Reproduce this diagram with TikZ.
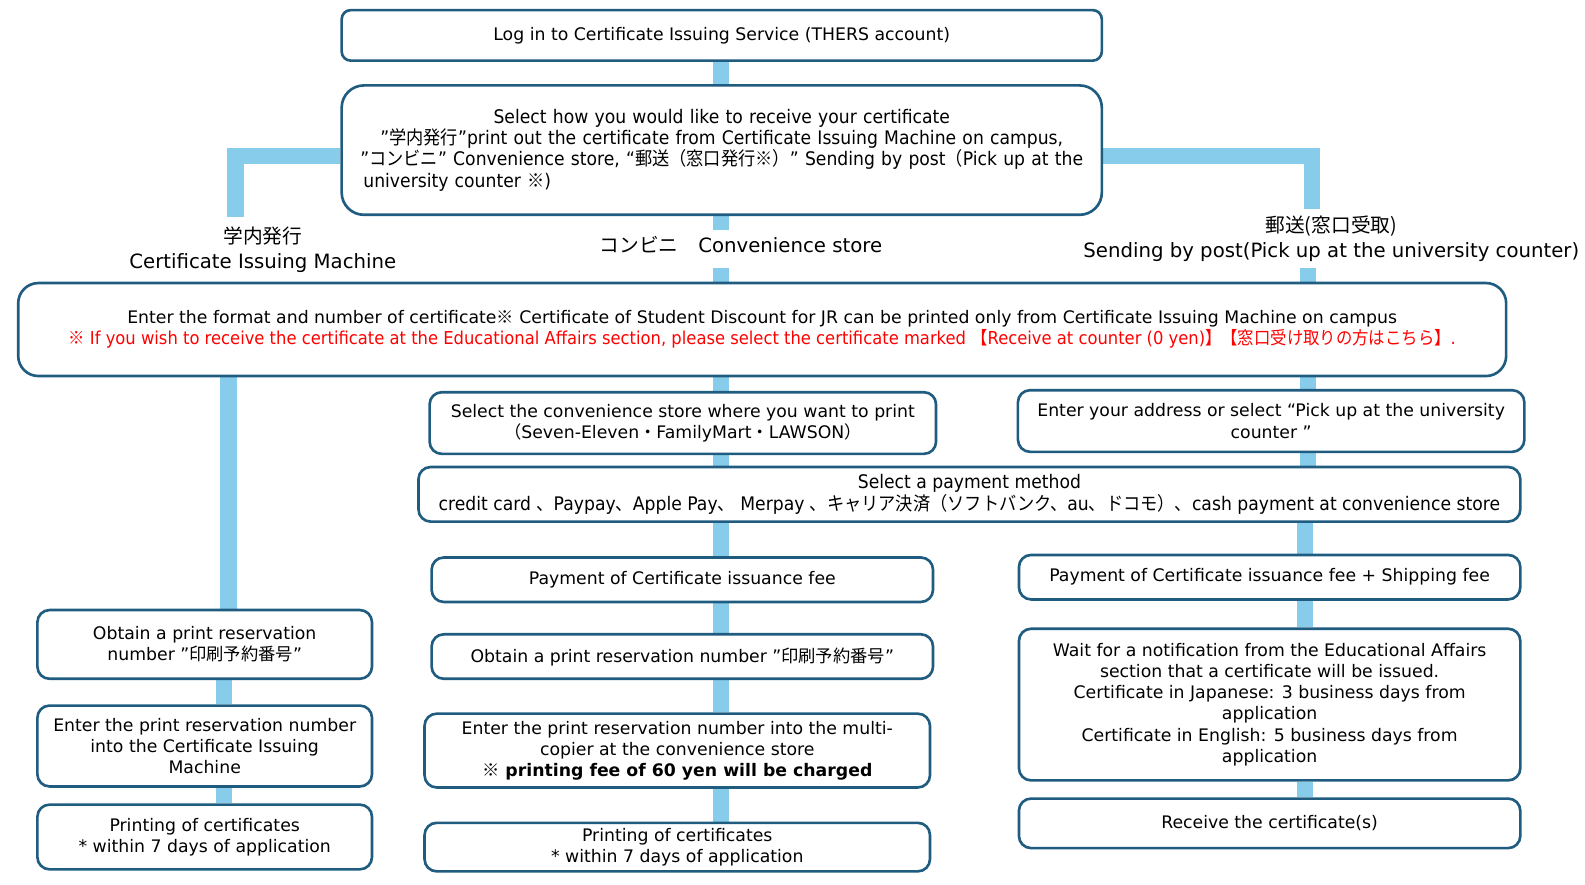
\documentclass[tikz,border=0pt]{standalone}
\usepackage{fontspec}
\setmainfont{DejaVu Sans}
\newfontfamily\jpf{Noto Sans CJK JP}
\newfontfamily\cdf[FakeStretch=0.92]{DejaVu Sans}
\newfontfamily\cdjp[FakeStretch=0.92]{Noto Sans CJK JP}
\usetikzlibrary{backgrounds}
\definecolor{boxc}{RGB}{31,92,128}
\definecolor{connc}{RGB}{135,205,235}
\definecolor{redc}{RGB}{255,0,0}
\let\myjp\jpf
\newcommand\J[1]{{\myjp #1}}
\newcommand\fs{\fontsize{17.1}{21}\selectfont}
\newcommand\fc{\cdf\let\myjp\cdjp\fontsize{18.5}{21}\selectfont}
\newcommand\fl{\fontsize{19.5}{25}\selectfont}
\tikzset{
  box/.style={draw=boxc, line width=2.6pt, fill=white, rounded corners=12pt,
    align=center, inner sep=0pt, font=\fs},
  conn/.style={draw=connc, line width=16pt},
  lbl/.style={align=center, font=\fl, inner sep=0pt},
}
\begin{document}
\begin{tikzpicture}[x=1pt,y=-1pt]
\useasboundingbox (0,0) rectangle (1568,875.4);
% top
\node[box, minimum width=752pt, minimum height=50pt, rounded corners=9pt] (b1) at (714,35)
  {Log in to Certificate Issuing Service (THERS account)};
\node[box, minimum width=752pt, minimum height=128pt, rounded corners=22pt, text width=740pt, font=\fc] (b2) at (714,148.5)
  {Select how you would like to receive your certificate\\
   ”\J{学内発行}”print out the certificate from Certificate Issuing Machine on campus,\\
   ”\J{コンビニ}” Convenience store, “\J{郵送（窓口発行※）}” Sending by post\J{（}Pick up at the\\
   \makebox[709pt][l]{university counter \J{※})}};
\node[box, minimum width=1472pt, minimum height=92pt, rounded corners=20pt] (b3) at (754,326)
  {Enter the format and number of certificate\J{※} Certificate of Student Discount for JR can be printed only from Certificate Issuing Machine on campus\\
   {\cdf\let\myjp\cdjp\fontsize{17.6}{21}\selectfont\color{redc}\J{※} If you wish to receive the certificate at the Educational Affairs section, please select the certificate marked \J{【}Receive at counter (0 yen)\J{】【窓口受け取りの方はこちら】}.}};
% labels
\node[lbl] (lblL) at (260,247) {\J{学内発行}\\Certificate Issuing Machine};
\node[lbl, text height=22pt, text depth=15pt] (lblM) at (733,246) {\J{コンビニ　}Convenience store};
\node[lbl] (lblR) at (1317,236.5) {\J{郵送(窓口受取)}\\Sending by post(Pick up at the university counter)};
% left column
\node[box, minimum width=331pt, minimum height=68pt] (L1) at (202.5,637.5)
  {Obtain a print reservation\\number ”\J{印刷予約番号}”};
\node[box, minimum width=331pt, minimum height=80pt] (L2) at (202.5,738)
  {Enter the print reservation number\\into the Certificate Issuing\\Machine};
\node[box, minimum width=331pt, minimum height=64pt] (L3) at (202.5,828)
  {Printing of certificates\\* within 7 days of application};
% middle column
\node[box, minimum width=501pt, minimum height=61pt] (M1) at (675.5,418.5)
  {Select the convenience store where you want to print\\\J{（}Seven-Eleven\J{・}FamilyMart\J{・}LAWSON\J{）}};
\node[box, minimum width=1090pt, minimum height=54pt, font=\fc] (P) at (959,489)
  {Select a payment method\\credit card \J{、}Paypay\J{、}Apple Pay\J{、} Merpay \J{、キャリア決済（ソフトバンク、}au\J{、ドコモ）、}cash payment at convenience store};
\node[box, minimum width=496pt, minimum height=44pt] (M2) at (675,573.5)
  {Payment of Certificate issuance fee};
\node[box, minimum width=496pt, minimum height=44pt] (M3) at (675,649.5)
  {Obtain a print reservation number ”\J{印刷予約番号}”};
\node[box, minimum width=500pt, minimum height=73pt] (M4) at (670,742.5)
  {Enter the print reservation number into the multi-\\copier at the convenience store\\\textbf{\J{※} printing fee of 60 yen will be charged}};
\node[box, minimum width=500pt, minimum height=48pt] (M5) at (670,838)
  {Printing of certificates\\* within 7 days of application};
% right column
\node[box, minimum width=501pt, minimum height=61pt] (R1) at (1257.5,416.5)
  {Enter your address or select “Pick up at the university\\counter "};
\node[box, minimum width=496pt, minimum height=44pt] (R2) at (1256,571)
  {Payment of Certificate issuance fee + Shipping fee};
\node[box, minimum width=496pt, minimum height=150pt] (R3) at (1256,697)
  {Wait for a notification from the Educational Affairs\\section that a certificate will be issued.\\Certificate in Japanese: 3 business days from\\application\\Certificate in English: 5 business days from\\application};
\node[box, minimum width=496pt, minimum height=49pt] (R4) at (1256,814.5)
  {Receive the certificate(s)};
% connectors
\coordinate (cl) at (226,0);
\coordinate (cl2) at (222,0);
\coordinate (cm) at (713,0);
\coordinate (cr) at (1294,0);
\coordinate (cr2) at (1291,0);
\coordinate (jL) at (233,215);
\coordinate (jR) at (1298,207);
\coordinate (jR2) at (1294,265);
\begin{pgfonlayer}{background}
\draw[conn] (b1.south -| cm) -- (b2.north -| cm);
\draw[conn] (b2.south -| cm) -- (lblM.north -| cm);
\draw[conn] (lblM.south -| cm) -- (b3.north -| cm);
\draw[conn] (b2.west |- 0,154) -| (jL);
\draw[conn] (b2.east |- 0,154) -| (jR);
\draw[conn] (jR2) -- (b3.north -| jR2);
\draw[conn] (b3.south -| cl) -- (L1.north -| cl);
\draw[conn] (L1.south -| cl2) -- (L2.north -| cl2);
\draw[conn] (L2.south -| cl2) -- (L3.north -| cl2);
\draw[conn] (b3.south -| cm) -- (M1.north -| cm);
\draw[conn] (M1.south -| cm) -- (P.north -| cm);
\draw[conn] (P.south -| cm) -- (M2.north -| cm);
\draw[conn] (M2.south -| cm) -- (M3.north -| cm);
\draw[conn] (M3.south -| cm) -- (M4.north -| cm);
\draw[conn] (M4.south -| cm) -- (M5.north -| cm);
\draw[conn] (b3.south -| cr) -- (R1.north -| cr);
\draw[conn] (R1.south -| cr) -- (P.north -| cr);
\draw[conn] (P.south -| cr2) -- (R2.north -| cr2);
\draw[conn] (R2.south -| cr2) -- (R3.north -| cr2);
\draw[conn] (R3.south -| cr2) -- (R4.north -| cr2);
\end{pgfonlayer}
\end{tikzpicture}
\end{document}
